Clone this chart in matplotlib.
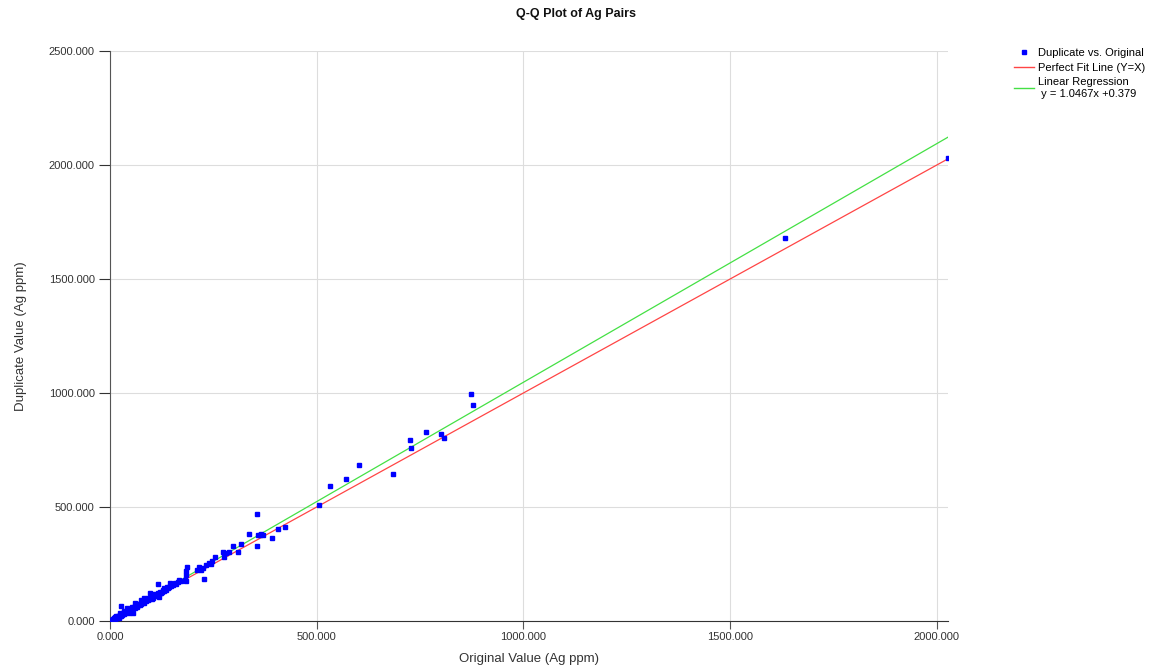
import numpy as np
import matplotlib.pyplot as plt
from matplotlib.lines import Line2D

plt.rcParams['font.family'] = ['Liberation Sans', 'DejaVu Sans']

# Original vs duplicate Ag values (ppm)
original = [0, 2, 3, 5, 6, 8, 9, 10, 12, 13, 15, 16, 18, 20, 21, 23, 24, 26, 27, 29,
            30, 32, 34, 35, 37, 38, 40, 41, 43, 45, 46, 48, 50, 52, 53, 55, 56, 58, 60, 61,
            63, 65, 67, 68, 70, 72, 74, 76, 78, 80, 81, 83, 85, 87, 89, 91, 93, 95, 97, 99,
            101, 103, 105, 107, 109, 111, 113, 115, 117, 119, 121, 123, 125, 128, 130, 133, 135, 137, 140, 143,
            145, 148, 152, 156, 160, 165, 168, 172, 181, 183, 184, 184, 187, 211, 216, 219, 226, 227, 232, 240,
            244, 246, 255, 273, 275, 281, 288, 298, 309, 318, 336, 356, 356, 358, 362, 366, 370, 393, 407, 423,
            506, 532, 572, 603, 685, 725, 729, 764, 801, 808, 873, 878, 1633, 2027,
            14, 22, 33, 47, 62, 75, 88, 102, 118, 131]
duplicate = [0, 3, 1, 6, 4, 10, 7, 14, 9, 16, 12, 19, 15, 22, 18, 26, 34, 66, 24, 30,
             27, 36, 31, 40, 33, 44, 56, 38, 47, 42, 50, 45, 54, 63, 49, 58, 34, 62, 78, 57,
             66, 61, 72, 69, 75, 68, 79, 73, 83, 85, 99, 80, 90, 86, 95, 91, 100, 96, 124, 104,
             98, 109, 99, 113, 108, 117, 112, 122, 162, 118, 128, 124, 129, 135, 132, 141, 138, 150, 146, 151,
             165, 155, 160, 168, 164, 172, 180, 176, 180, 202, 219, 177, 238, 222, 237, 224, 231, 184, 247, 256,
             250, 263, 281, 301, 279, 298, 301, 329, 303, 339, 380, 469, 330, 378, 375, 381, 379, 364, 403, 411,
             509, 592, 624, 686, 646, 795, 757, 830, 819, 801, 996, 947, 1680, 2030,
             24, 14, 45, 36, 74, 90, 97, 118, 106, 144]

slope = 1.0467
intercept = 0.379
x_min, x_max = 0, 2027

fig = plt.figure(figsize=(11.51, 6.66), dpi=100)
ax = fig.add_axes([0.0956, 0.0676, 0.728, 0.8558])

ax.plot(original, duplicate, 's', color='#0000FF', markersize=3.5, lw=0, zorder=3)
fit_x = np.array([x_min, x_max])
ax.plot(fit_x, fit_x, color='#FF4545', lw=0.9, zorder=2)
ax.plot(fit_x, slope * fit_x + intercept, color='#44E044', lw=0.9, zorder=2)

ax.set_xlim(x_min, x_max)
ax.set_ylim(0, 2500)
ax.set_xticks([0, 500, 1000, 1500, 2000])
ax.set_yticks([0, 500, 1000, 1500, 2000, 2500])
ax.xaxis.set_major_formatter(lambda v, p: f'{v:.3f}')
ax.yaxis.set_major_formatter(lambda v, p: f'{v:.3f}')
ax.grid(True, color='#DDDDDD', lw=0.8)
ax.set_axisbelow(True)
for s in ['top', 'right']:
    ax.spines[s].set_visible(False)
ax.spines['left'].set_color('#555555')
ax.spines['bottom'].set_color('#333333')
ax.tick_params(axis='y', length=8, width=0.8, color='#333333', labelsize=8, labelcolor='#333333', pad=3)
ax.tick_params(axis='x', length=6, width=0.8, color='#555555', labelsize=8, labelcolor='#333333', pad=2)

ax.set_xlabel('Original Value (Ag ppm)', fontsize=9.5, color='#333333', labelpad=8)
ax.set_ylabel('Duplicate Value (Ag ppm)', fontsize=9.5, color='#333333', labelpad=16)
fig.text(0.5, 0.979, 'Q-Q Plot of Ag Pairs', ha='center', va='center',
         fontsize=9, fontweight='bold', color='#111111')

handles = [
    Line2D([], [], marker='s', color='#0000FF', markersize=3, lw=0),
    Line2D([], [], color='#FF4545', lw=1),
    Line2D([], [], color='#44E044', lw=1),
]
labels = ['Duplicate vs. Original', 'Perfect Fit Line (Y=X)', 'Linear Regression\n y = 1.0467x +0.379']
fig.legend(handles, labels, loc='upper left', bbox_to_anchor=(0.881, 0.928),
           frameon=False, fontsize=8, handlelength=1.8, handletextpad=0.4,
           labelspacing=0.42, borderaxespad=0, borderpad=0)

fig.savefig('out.png', dpi=100)
